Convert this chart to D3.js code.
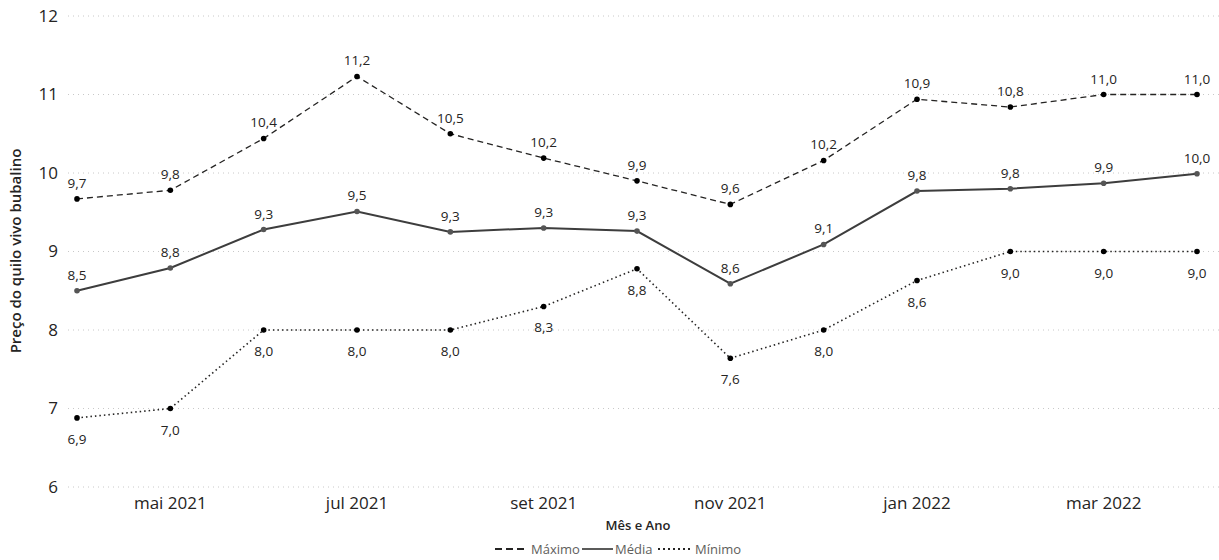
<!DOCTYPE html>
<html>
<head>
<meta charset="utf-8">
<script src="https://cdn.jsdelivr.net/npm/d3@7"></script>
<style>
  body { margin: 0; background: #fff; }
  text { font-family: "Segoe UI", "Open Sans", sans-serif; fill: #252423; }
</style>
</head>
<body>
<svg id="chart" width="1219" height="560"></svg>
<script>
const months = ['abr 2021', 'mai 2021', 'jun 2021', 'jul 2021', 'ago 2021', 'set 2021', 'out 2021',
  'nov 2021', 'dez 2021', 'jan 2022', 'fev 2022', 'mar 2022', 'abr 2022']
const tickMonths = ['mai 2021', 'jul 2021', 'set 2021', 'nov 2021', 'jan 2022', 'mar 2022']
const maximo = [9.67, 9.78, 10.44, 11.23, 10.5, 10.19, 9.9, 9.6, 10.16, 10.94, 10.84, 11.0, 11.0]
const media = [8.5, 8.79, 9.28, 9.51, 9.25, 9.3, 9.26, 8.59, 9.09, 9.77, 9.8, 9.87, 9.99]
const minimo = [6.88, 7.0, 8.0, 8.0, 8.0, 8.3, 8.78, 7.64, 8.0, 8.63, 9.0, 9.0, 9.0]
const yTicks = [6, 7, 8, 9, 10, 11, 12]

const series = [
  { name: 'Máximo', values: maximo, dash: '6,4', width: 1.3, color: '#252423', dot: '#000', labelPos: 'above' },
  { name: 'Média', values: media, dash: null, width: 2, color: '#3d3d3d', dot: '#555', labelPos: 'above' },
  { name: 'Mínimo', values: minimo, dash: '1.5,3', width: 1.6, color: '#252423', dot: '#000', labelPos: 'below' }
]

const svg = d3.select('#chart')
const fmt = (v) => d3.format('.1f')(v).replace('.', ',')

const x = d3.scalePoint().domain(months).range([77, 1197])
const y = d3.scaleLinear().domain([6, 12]).range([487, 16])

// grid + y ticks
const yAxis = svg.append('g')
yAxis.selectAll('line').data(yTicks).enter().append('line')
  .attr('x1', 68).attr('x2', 1219)
  .attr('y1', (d) => y(d)).attr('y2', (d) => y(d))
  .attr('stroke', '#c8c8c8').attr('stroke-width', 1).attr('stroke-dasharray', '1,4')
yAxis.selectAll('text').data(yTicks).enter().append('text')
  .attr('x', 58).attr('y', (d) => y(d)).attr('dy', '0.35em')
  .attr('text-anchor', 'end').style('font-size', '17px').style('fill', '#252423')
  .text((d) => d)

svg.append('text')
  .attr('transform', 'translate(21,251) rotate(-90)')
  .attr('text-anchor', 'middle').style('font-size', '15px').style('font-weight', '600')
  .text('Preço do quilo vivo bubalino')

// x ticks
svg.append('g').selectAll('text').data(tickMonths).enter().append('text')
  .attr('x', (d) => x(d)).attr('y', 509)
  .attr('text-anchor', 'middle').style('font-size', '17px')
  .text((d) => d)

svg.append('text')
  .attr('x', 638).attr('y', 530).attr('text-anchor', 'middle')
  .style('font-size', '13px').style('font-weight', '600')
  .text('Mês e Ano')

// series
const line = d3.line().x((d, i) => x(months[i])).y((d) => y(d))
series.forEach((s) => {
  const g = svg.append('g')
  g.append('path').datum(s.values)
    .attr('d', line).attr('fill', 'none')
    .attr('stroke', s.color).attr('stroke-width', s.width)
    .attr('stroke-dasharray', s.dash)
  g.selectAll('circle').data(s.values).enter().append('circle')
    .attr('cx', (d, i) => x(months[i])).attr('cy', (d) => y(d))
    .attr('r', 2.8).attr('fill', s.dot)
  g.selectAll('text').data(s.values).enter().append('text')
    .attr('x', (d, i) => x(months[i]))
    .attr('y', (d) => (s.labelPos === 'below' ? y(d) + 26 : y(d) - 11))
    .attr('text-anchor', 'middle').style('font-size', '13.5px')
    .text((d) => fmt(d))
})

// legend
const legendItems = [
  { name: 'Máximo', dash: '7,4', width: 2, x1: 495, x2: 528, tx: 531 },
  { name: 'Média', dash: null, width: 1.5, x1: 582, x2: 613, tx: 615 },
  { name: 'Mínimo', dash: '2,3', width: 2, x1: 658, x2: 692, tx: 695 }
]
const lg = svg.append('g')
legendItems.forEach((it) => {
  lg.append('line')
    .attr('x1', it.x1).attr('x2', it.x2).attr('y1', 549).attr('y2', 549)
    .attr('stroke', '#252423').attr('stroke-width', it.width)
    .attr('stroke-dasharray', it.dash)
  lg.append('text')
    .attr('x', it.tx).attr('y', 549).attr('dy', '0.35em')
    .style('font-size', '13px').style('fill', '#605e5c')
    .text(it.name)
})
</script>
</body>
</html>
